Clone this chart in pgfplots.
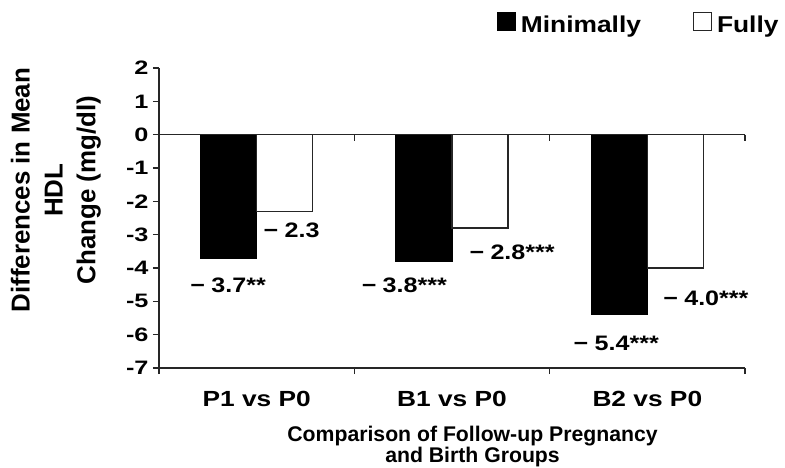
\documentclass[border=0pt]{standalone}
\usepackage{fontspec}
\setmainfont{Liberation Sans}
\newfontfamily\fA{Liberation Sans}[FakeStretch=1.15]
\newfontfamily\fB{Liberation Sans}[FakeStretch=1.3]
\newfontfamily\fC{Liberation Sans}[FakeStretch=1.2]
\usepackage{pgfplots}
\usepackage{pgfplotstable}
\pgfplotsset{compat=1.18}

\pgfplotstableread{
x minimally fully
0 -3.7 -2.3
1 -3.8 -2.8
2 -5.4 -4.0
}\datatable

\newcommand{\mn}{−\kern0.3em}

\begin{document}
\begin{tikzpicture}
\useasboundingbox (0,0) rectangle (785bp,468bp);
\begin{axis}[
  at={(159bp,100bp)}, anchor=south west,
  scale only axis, width=586bp, height=300bp,
  xmin=-0.5, xmax=2.5, ymin=-7, ymax=2,
  axis x line=bottom, axis y line=left,
  axis line style={-, line width=1.3bp, black!85},
  tick align=outside,
  major tick length=6bp,
  tick style={line width=1.2bp, black!85},
  xtick={-0.5,0.5,1.5,2.5},
  xticklabels={,,,},
  extra x ticks={0,1,2},
  extra x tick labels={P1 vs P0, B1 vs P0, B2 vs P0},
  extra x tick style={major tick length=0pt, xticklabel style={yshift=-20bp}},
  xticklabel style={font=\fC\bfseries\fontsize{22}{22}\selectfont},
  ytick={-7,-6,-5,-4,-3,-2,-1,0,1,2},
  yticklabels={-7,-6,-5,-4,-3,-2,-1,0,1,2},
  yticklabel style={font=\fB\bfseries\fontsize{19.5}{19.5}\selectfont, xshift=-1bp},
  ylabel={Differences in Mean\\HDL\\Change (mg/dl)},
  ylabel style={at={(axis description cs:-0.176,0.593)}, anchor=center, align=center,
    font=\bfseries\fontsize{26}{33}\selectfont},
  xlabel={Comparison of Follow-up Pregnancy\\and Birth Groups},
  xlabel style={at={(axis description cs:0.535,-0.262)}, anchor=center, align=center,
    font=\bfseries\fontsize{21.3}{19}\selectfont},
  legend columns=2,
  legend style={at={(axis description cs:1.066,1.147)}, anchor=east, draw=none, fill=none,
    font=\fA\bfseries\fontsize{23}{23}\selectfont,
    /tikz/every even column/.append style={column sep=50bp},
    /tikz/every odd column/.append style={column sep=3bp}},
  clip=false,
]
\addplot[ybar, bar width=0.287, bar shift=-0.1435, fill=black, draw=black, line width=1.2bp,
  legend image code/.code={\draw[fill=black, draw=black, line width=1bp] (0bp,-6bp) rectangle (18bp,12bp);}]
  table[x=x, y=minimally] {\datatable};
\addlegendentry{Minimally}
\addplot[ybar, bar width=0.287, bar shift=0.1435, fill=white, draw=black!85, line width=1.2bp,
  legend image code/.code={\draw[fill=white, draw=black!85, line width=1bp] (0bp,-6bp) rectangle (18bp,12bp);}]
  table[x=x, y=fully] {\datatable};
\addlegendentry{Fully}

% zero line with its ticks
\draw[line width=1.3bp, black!85] (axis cs:-0.5,0) -- (axis cs:2.5,0);
\draw[line width=1.2bp, black!85] (axis cs:0.5,0) -- ++(0bp,-6bp);
\draw[line width=1.2bp, black!85] (axis cs:1.5,0) -- ++(0bp,-6bp);
\draw[line width=1.2bp, black!85] (axis cs:2.5,0) -- ++(0bp,-6bp);

% value labels
\node[font=\fC\bfseries\fontsize{21}{21}\selectfont, inner sep=0pt] at (axis cs:-0.146,-4.51) {\mn 3.7**};
\node[font=\fC\bfseries\fontsize{21}{21}\selectfont, inner sep=0pt, anchor=west] at (axis cs:0.035,-2.86) {\mn 2.3};
\node[font=\fC\bfseries\fontsize{21}{21}\selectfont, inner sep=0pt] at (axis cs:0.756,-4.51) {\mn 3.8***};
\node[font=\fC\bfseries\fontsize{21}{21}\selectfont, inner sep=0pt] at (axis cs:1.308,-3.52) {\mn 2.8***};
\node[font=\fC\bfseries\fontsize{21}{21}\selectfont, inner sep=0pt] at (axis cs:1.841,-6.25) {\mn 5.4***};
\node[font=\fC\bfseries\fontsize{21}{21}\selectfont, inner sep=0pt] at (axis cs:2.300,-4.90) {\mn 4.0***};
\end{axis}
\end{tikzpicture}
\end{document}
